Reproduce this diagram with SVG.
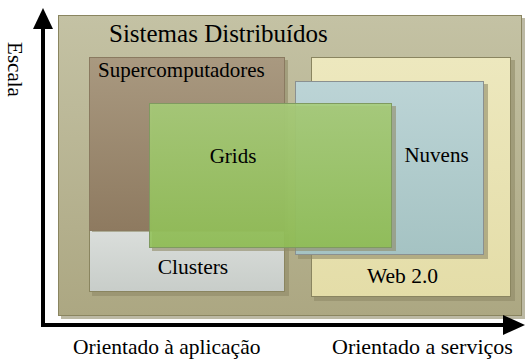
<svg xmlns="http://www.w3.org/2000/svg" width="525" height="359" viewBox="0 0 525 359">
<style>
text{font-family:"Liberation Serif","Times New Roman","DejaVu Serif",serif;fill:#000}
.box{stroke:#8a8560;stroke-width:1}
.sh{fill:#8f8a68;opacity:0.6}
.axis{stroke:#000;stroke-width:4;fill:none}
.head{fill:#000}
</style>
<defs>
<linearGradient id="gOuter" x1="0" y1="0" x2="0" y2="1"><stop offset="0" stop-color="#c4c2a4"/><stop offset="1" stop-color="#aca782"/></linearGradient>
<linearGradient id="gSuper" x1="0" y1="0" x2="0" y2="1"><stop offset="0" stop-color="#a99980"/><stop offset="1" stop-color="#8e7a60"/></linearGradient>
<linearGradient id="gClus" x1="0" y1="0" x2="0" y2="1"><stop offset="0" stop-color="#dadedb"/><stop offset="1" stop-color="#c8cdc9"/></linearGradient>
<linearGradient id="gWeb" x1="0" y1="0" x2="0" y2="1"><stop offset="0" stop-color="#ede8be"/><stop offset="1" stop-color="#e4dda8"/></linearGradient>
<linearGradient id="gNuv" x1="0" y1="0" x2="0" y2="1"><stop offset="0" stop-color="#bcd4d6"/><stop offset="1" stop-color="#a5c3c3"/></linearGradient>
<linearGradient id="gGrid" x1="0" y1="0" x2="0" y2="1"><stop offset="0" stop-color="#a6cd78"/><stop offset="1" stop-color="#8fc054"/></linearGradient>
</defs>
<g id="outer">
<rect class="sh" x="61" y="18" width="464" height="301"/>
<rect class="box" x="58.5" y="15.5" width="463" height="300" fill="url(#gOuter)"/>
<text x="109" y="42" font-size="25">Sistemas Distribuídos</text>
</g>
<g id="clusters">
<rect class="sh" x="92" y="234" width="197" height="62"/>
<rect class="box" x="89.5" y="230.5" width="195" height="61" fill="url(#gClus)"/>
<text x="193" y="274" font-size="21.5" text-anchor="middle">Clusters</text>
</g>
<g id="supercomputadores">
<rect class="sh" x="92" y="60" width="196" height="172"/>
<rect x="89.5" y="57.5" width="195" height="173" fill="url(#gSuper)" stroke="#8a7a60"/>
<text x="98" y="77" font-size="21">Supercomputadores</text>
</g>
<g id="web20">
<rect class="sh" x="314" y="60" width="201" height="241"/>
<rect class="box" x="311.5" y="57.5" width="199" height="239" fill="url(#gWeb)"/>
<text x="402.5" y="283" font-size="21.5" text-anchor="middle">Web 2.0</text>
</g>
<g id="nuvens">
<rect class="sh" x="298" y="84" width="190" height="175"/>
<rect x="295.5" y="81.5" width="188" height="173" fill="url(#gNuv)" stroke="#8a9090"/>
<text x="436.5" y="162" font-size="21" text-anchor="middle">Nuvens</text>
</g>
<g id="grids">
<rect class="sh" x="152" y="106" width="244" height="145"/>
<rect x="149.5" y="103.5" width="242" height="144" fill="url(#gGrid)" fill-opacity="0.88" stroke="#7f9a60"/>
<text x="233" y="163" font-size="21" text-anchor="middle">Grids</text>
</g>
<g id="connectors">
<line class="axis" x1="43" y1="327" x2="43" y2="26"/>
<polygon class="head" points="43,8 53,29 33,29"/>
<line class="axis" x1="41" y1="325" x2="506" y2="325"/>
<polygon class="head" points="525,325 503,315 503,335"/>
</g>
<g id="labels">
<text transform="translate(8,69.5) rotate(90)" font-size="21" text-anchor="middle">Escala</text>
<text x="73" y="354" font-size="21.5">Orientado à aplicação</text>
<text x="332" y="354" font-size="22">Orientado a serviços</text>
</g>
</svg>
